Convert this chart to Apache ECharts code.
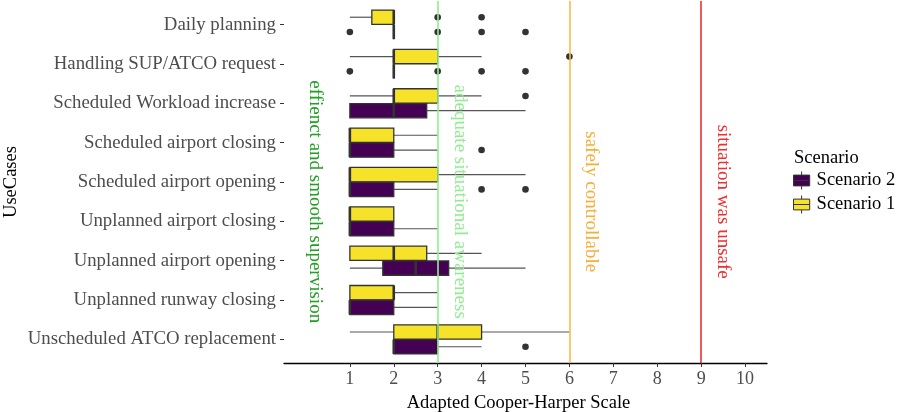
<!DOCTYPE html>
<html>
<head>
<meta charset="utf-8">
<script src="https://cdn.jsdelivr.net/npm/echarts@6/dist/echarts.min.js"></script>
<style>html,body{margin:0;padding:0;background:#fff;}#chart{width:902px;height:412px;}</style>
</head>
<body>
<div id="chart"></div>
<script>
// ---- data ----
const categories = [
  'Daily planning',
  'Handling SUP/ATCO request',
  'Scheduled Workload increase',
  'Scheduled airport closing',
  'Scheduled airport opening',
  'Unplanned airport closing',
  'Unplanned airport opening',
  'Unplanned runway closing',
  'Unscheduled ATCO replacement'
];
// [min, Q1, median, Q3, max] per category
const scenario1Stats = [
  [1, 1.5, 2, 2, 2],
  [1, 2, 2, 3, 4],
  [1, 2, 2, 3, 4],
  [1, 1, 1, 2, 3],
  [1, 1, 1, 3, 5],
  [1, 1, 1, 2, 2],
  [1, 1, 2, 2.75, 4],
  [1, 1, 2, 2, 3],
  [1, 2, 3, 4, 6]
];
const scenario2Stats = [
  [2, 2, 2, 2, 2],
  [2, 2, 2, 2, 2],
  [1, 1, 2, 2.75, 5],
  [1, 1, 1, 2, 3],
  [1, 1, 1, 2, 3],
  [1, 1, 1, 2, 3],
  [1, 1.75, 2.5, 3.25, 5],
  [1, 1, 1, 2, 3],
  [2, 2, 2, 3, 4]
];
// outliers per category
const scenario1Outliers = [[3, 4], [6], [5], [], [], [], [], [], []];
const scenario2Outliers = [[1, 3, 4, 5], [1, 3, 4, 5], [], [4], [4, 5], [], [], [], [5]];
const xTicks = [1, 2, 3, 4, 5, 6, 7, 8, 9, 10];
const refLines = [3, 6, 9];
const annotationText = [
  'effienct and smooth supervision',
  'adequate situational awareness',
  'safely controllable',
  'situation was unsafe'
];
const annotationX = [0.2, 3.5, 6.5, 9.5];
const annotationY = 4.5;

// ---- styles ----
const FONT = "'Liberation Serif', 'Times New Roman', serif";
const YELLOW = '#F7E22A';
const PURPLE = '#440154';
const refColors = ['#90EE90', '#FDB94A', '#EE3030'];
const annotationColors = ['#22A022', '#90EE90', '#F9AE3A', '#EE3030'];
const DODGE = 0.1875;

function boxRender(offset) {
  return function (params, api) {
    const cat = api.value(0);
    const mn = api.value(1), q1 = api.value(2), md = api.value(3), q3 = api.value(4), mx = api.value(5);
    const yc = api.coord([0, cat + offset])[1];
    const h = api.size([0, DODGE])[1] * 0.97;
    const px = v => api.coord([v, cat])[0];
    const color = api.visual('color');
    const children = [];
    const wStyle = { stroke: '#555', lineWidth: 1.2 };
    if (mn < q1) children.push({ type: 'line', shape: { x1: px(mn), y1: yc, x2: px(q1), y2: yc }, style: wStyle });
    if (mx > q3) children.push({ type: 'line', shape: { x1: px(q3), y1: yc, x2: px(mx), y2: yc }, style: wStyle });
    children.push({ type: 'rect', shape: { x: px(q1), y: yc - h, width: px(q3) - px(q1), height: 2 * h },
      style: { fill: color, stroke: '#333', lineWidth: 1.3 } });
    children.push({ type: 'line', shape: { x1: px(md), y1: yc - h, x2: px(md), y2: yc + h },
      style: { stroke: '#333', lineWidth: 2.6 } });
    return { type: 'group', children: children };
  };
}
function outlierRender(offset) {
  return function (params, api) {
    const p = api.coord([api.value(1), api.value(0) + offset]);
    return { type: 'circle', shape: { cx: p[0], cy: p[1], r: 3.3 }, style: { fill: '#333' } };
  };
}
function statsData(stats) { return stats.map((s, i) => [i].concat(s)); }
function outlierData(list) {
  const out = [];
  list.forEach((vals, i) => vals.forEach(v => out.push([i, v])));
  return out;
}

const chart = echarts.init(document.getElementById('chart'), null, { renderer: 'canvas' });
chart.setOption({
  animation: false,
  backgroundColor: '#fff',
  title: {
    text: 'Scenario', left: 794, top: 149, padding: 0,
    textStyle: { fontFamily: FONT, fontSize: 18.5, fontWeight: 'normal', color: '#000' }
  },
  legend: {
    data: ['Scenario 2', 'Scenario 1'],
    orient: 'vertical', left: 793, top: 171, padding: 0,
    itemWidth: 20, itemHeight: 18, itemGap: 5,
    icon: 'path://M1,4 H19 V16 H1 Z M1,10 H19 M10,0 V4 M10,16 V20',
    itemStyle: { borderColor: '#333', borderWidth: 1 },
    textStyle: { fontFamily: FONT, fontSize: 18.5, color: '#000' },
    selectedMode: false
  },
  grid: { left: 284, right: 135, top: 1, bottom: 49, outerBoundsMode: 'none', containLabel: false },
  xAxis: {
    type: 'value', min: -0.5, max: 10.5,
    name: 'Adapted Cooper-Harper Scale', nameLocation: 'middle', nameGap: 31, nameMoveOverlap: false,
    nameTextStyle: { fontFamily: FONT, fontSize: 18.5, color: '#000', padding: [0, 14, 0, 0] },
    axisLine: { show: true, onZero: false, lineStyle: { color: '#000', width: 1.3 } },
    axisTick: { show: true, customValues: xTicks, length: 4, lineStyle: { color: '#333' } },
    axisLabel: { customValues: xTicks, fontFamily: FONT, fontSize: 18, color: '#4d4d4d', margin: 7 },
    splitLine: { show: false }
  },
  yAxis: {
    type: 'value', inverse: true, min: -0.6, max: categories.length - 0.4,
    name: 'UseCases', nameLocation: 'middle', nameGap: 263, nameRotate: 90, nameMoveOverlap: false,
    nameTextStyle: { fontFamily: FONT, fontSize: 18.5, color: '#000' },
    axisLine: { show: false, onZero: false },
    axisTick: { show: true, customValues: categories.map((c, i) => i), length: 4, lineStyle: { color: '#333' } },
    axisLabel: {
      customValues: categories.map((c, i) => i),
      formatter: v => categories[Math.round(v)],
      fontFamily: FONT, fontSize: 18.8, color: '#4d4d4d', margin: 8
    },
    splitLine: { show: false }
  },
  series: [
    {
      name: 'Scenario 1', type: 'custom', renderItem: boxRender(-DODGE),
      itemStyle: { color: YELLOW, borderColor: '#333' },
      encode: { x: [1, 2, 3, 4, 5], y: 0 },
      data: statsData(scenario1Stats), z: 2
    },
    {
      name: 'Scenario 2', type: 'custom', renderItem: boxRender(DODGE),
      itemStyle: { color: PURPLE, borderColor: '#333' },
      encode: { x: [1, 2, 3, 4, 5], y: 0 },
      data: statsData(scenario2Stats), z: 2
    },
    {
      name: 'out1', type: 'custom', renderItem: outlierRender(-DODGE),
      encode: { x: 1, y: 0 }, data: outlierData(scenario1Outliers), z: 4
    },
    {
      name: 'out2', type: 'custom', renderItem: outlierRender(DODGE),
      encode: { x: 1, y: 0 }, data: outlierData(scenario2Outliers), z: 4
    },
    {
      name: 'annotations', type: 'custom', z: 3,
      encode: { x: 0, y: 1 },
      data: annotationX.map((x, i) => [x, annotationY, i]),
      renderItem: function (params, api) {
        const p = api.coord([api.value(0), api.value(1)]);
        const i = api.value(2);
        return {
          type: 'text', x: p[0], y: p[1], rotation: -Math.PI / 2,
          style: { text: annotationText[i], fill: annotationColors[i], font: '19px ' + FONT,
            align: 'center', verticalAlign: 'middle' }
        };
      },
      markLine: {
        silent: true, symbol: ['none', 'none'], label: { show: false },
        data: refLines.map((v, i) => ({ xAxis: v, lineStyle: { color: refColors[i], width: 1.6, type: 'solid' } }))
      }
    }
  ]
});
</script>
</body>
</html>
